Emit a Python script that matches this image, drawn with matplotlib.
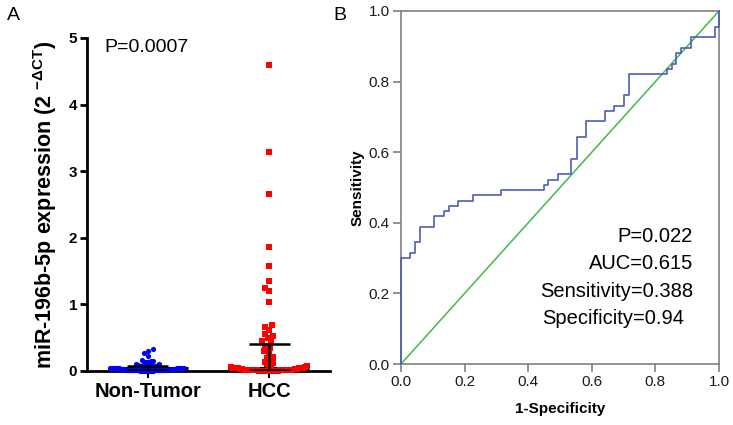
import numpy as np
import matplotlib
matplotlib.use("Agg")
import matplotlib.pyplot as plt

plt.rcParams['font.family'] = ['Liberation Sans', 'DejaVu Sans']
plt.rcParams['mathtext.fontset'] = 'custom'
plt.rcParams['mathtext.rm'] = 'Liberation Sans'
plt.rcParams['mathtext.bf'] = 'Liberation Sans:bold'
plt.rcParams['mathtext.it'] = 'Liberation Sans:italic'

# ---------------- data ----------------
groups = ["Non-Tumor", "HCC"]
non_tumor = [0.33, 0.30, 0.27, 0.225,
             0.16, 0.15, 0.15, 0.14, 0.14, 0.13, 0.13,
             0.10, 0.10, 0.09, 0.09, 0.08, 0.08, 0.08,
             0.07, 0.07, 0.07, 0.06, 0.06, 0.06, 0.06, 0.05, 0.05, 0.05,
             0.05, 0.05, 0.04, 0.04, 0.04, 0.04, 0.04, 0.04, 0.03, 0.03, 0.03, 0.03,
             0.03, 0.03, 0.03, 0.02, 0.02, 0.02, 0.02, 0.02, 0.02, 0.02, 0.01, 0.01,
             0.01, 0.01, 0.01, 0.01, 0.01, 0.01, 0.01, 0.00, 0.00, 0.00, 0.00, 0.00,
             0.00, 0.00, 0.00]
hcc = [4.59, 3.29, 2.66, 1.86, 1.58, 1.35, 1.25, 1.20, 1.04, 0.69, 0.66, 0.62,
       0.56, 0.53, 0.50, 0.45, 0.43, 0.38, 0.35, 0.30, 0.27, 0.21, 0.21, 0.20,
       0.18, 0.14, 0.12, 0.10, 0.09, 0.08, 0.07, 0.06, 0.06, 0.05, 0.05, 0.05,
       0.04, 0.04, 0.04, 0.03, 0.03, 0.03, 0.03, 0.02, 0.02, 0.02, 0.02, 0.02,
       0.02, 0.01, 0.01, 0.01, 0.01, 0.01, 0.01, 0.01, 0.01, 0.00, 0.00, 0.00,
       0.00, 0.00, 0.00, 0.00, 0.00, 0.00, 0.00]
p_text_a = "P=0.0007"

# ROC curve steps (1-specificity, sensitivity)
roc_fpr = [0.0, 0.0, 0.028, 0.028, 0.044, 0.044, 0.060, 0.060, 0.105, 0.105,
           0.135, 0.135, 0.150, 0.150, 0.180, 0.180, 0.225, 0.225, 0.314, 0.314,
           0.449, 0.449, 0.463, 0.463, 0.494, 0.494, 0.534, 0.534, 0.552, 0.552,
           0.583, 0.583, 0.643, 0.643, 0.670, 0.670, 0.702, 0.702, 0.716, 0.716,
           0.837, 0.837, 0.852, 0.852, 0.866, 0.866, 0.879, 0.879, 0.911, 0.911,
           0.986, 0.986, 1.0, 1.0]
roc_tpr = [0.0, 0.300, 0.300, 0.315, 0.315, 0.345, 0.345, 0.388, 0.388, 0.418,
           0.418, 0.433, 0.433, 0.448, 0.448, 0.463, 0.463, 0.478, 0.478, 0.493,
           0.493, 0.508, 0.508, 0.522, 0.522, 0.537, 0.537, 0.582, 0.582, 0.642,
           0.642, 0.687, 0.687, 0.716, 0.716, 0.731, 0.731, 0.761, 0.761, 0.821,
           0.821, 0.836, 0.836, 0.851, 0.851, 0.881, 0.881, 0.896, 0.896, 0.925,
           0.925, 0.955, 0.955, 1.0]
roc_stats = ["P=0.022", "AUC=0.615", "Sensitivity=0.388"]
roc_spec = "Specificity=0.94"

W, H = 733, 425
fig = plt.figure(figsize=(W / 100, H / 100), dpi=100)

def frac(x0, y0, x1, y1):
    return [x0 / W, 1 - y1 / H, (x1 - x0) / W, (y1 - y0) / H]

# ---------------- panel A ----------------
axA = fig.add_axes(frac(87, 38, 330, 371))
axA.set_xlim(-0.5, 1.5)
axA.set_ylim(0, 5)
fig.canvas.draw()

def swarm(values, center, diam_px, max_half_px, ax):
    vals = np.asarray(values, dtype=float)
    order = np.argsort(vals)
    t = ax.transData
    pts_px = t.transform(np.column_stack([np.full(len(vals), center), vals]))
    cx = pts_px[0, 0]
    placed = []
    xs = np.zeros(len(vals))
    for i in order:
        yp = pts_px[i, 1]
        cands = [0.0]
        near = [(px, py) for (px, py) in placed if abs(py - yp) < diam_px]
        for px, py in near:
            dx = np.sqrt(max(diam_px ** 2 - (py - yp) ** 2, 0))
            cands += [px + dx, px - dx]
        cands = sorted(cands, key=lambda c: (abs(c), c))
        for c in cands:
            if all((c - px) ** 2 + (yp - py) ** 2 >= diam_px ** 2 - 1e-6 for px, py in near):
                break
        placed.append((c, yp))
        xs[i] = c
    # compress dense bands so the cloud stays within max_half_px
    ys = pts_px[:, 1]
    xs_new = xs.copy()
    for i in range(len(vals)):
        band = np.abs(ys - ys[i]) < 2 * diam_px
        m = np.max(np.abs(xs[band]))
        if m > max_half_px:
            xs_new[i] = xs[i] * max_half_px / m
    out = t.inverted().transform(np.column_stack([cx + xs_new, ys]))
    return out[:, 0], vals

xb, yb = swarm(non_tumor, 0, 4.6, 38, axA)
xr, yr = swarm(hcc, 1, 5.4, 38, axA)
axA.scatter(xb, yb, s=14, marker='o', color='#0000ff', linewidths=0, zorder=3, clip_on=False)
axA.scatter(xr, yr, s=17, marker='s', color='#ff0000', linewidths=0, zorder=3, clip_on=False)

for pos, vals in [(0, non_tumor), (1, hcc)]:
    q1, med, q3 = np.percentile(vals, [25, 50, 75])
    axA.plot([pos - 0.33, pos + 0.33], [med, med], color='black', lw=2.2, zorder=2,
             solid_capstyle='butt')
    axA.plot([pos - 0.17, pos + 0.17], [q3, q3], color='black', lw=1.8, zorder=4,
             solid_capstyle='butt')
    axA.plot([pos - 0.17, pos + 0.17], [q1, q1], color='black', lw=1.8, zorder=4,
             solid_capstyle='butt')
    axA.plot([pos, pos], [q1, q3], color='black', lw=1.8, zorder=4)

axA.spines['top'].set_visible(False)
axA.spines['right'].set_visible(False)
axA.spines['left'].set_linewidth(2)
axA.spines['bottom'].set_linewidth(2)
axA.spines['bottom'].set_zorder(1)
axA.set_yticks([0, 1, 2, 3, 4, 5])
axA.set_xticks([0, 1])
axA.set_xticklabels(groups, fontsize=14.5, fontweight='bold')
axA.tick_params(axis='y', length=5, width=2, labelsize=11, pad=2)
axA.tick_params(axis='x', length=5, width=1.5, pad=3)
for lab in axA.get_yticklabels():
    lab.set_fontweight('bold')
axA.set_ylabel(r'miR-196b-5p expression (2 $^{\mathbf{-\Delta CT}}$)', fontsize=15.5,
               fontweight='bold', labelpad=7)
axA.text(0.07, 0.97, p_text_a, transform=axA.transAxes, fontsize=14, ha='left', va='center')
fig.text(7 / W, 1 - 15 / H, "A", fontsize=14, ha='left', va='center')

# ---------------- panel B ----------------
axB = fig.add_axes(frac(401, 11, 719, 364))
axB.set_xlim(0, 1)
axB.set_ylim(0, 1)
axB.plot([0, 1], [0, 1], color='#3dba4a', lw=1.1, zorder=2)
axB.plot(roc_fpr, roc_tpr, color='#4a5db5', lw=1.2, zorder=3, clip_on=False)
for sp in axB.spines.values():
    sp.set_color('#808080')
    sp.set_linewidth(1.2)
axB.set_xticks(np.arange(0, 1.01, 0.2))
axB.set_yticks(np.arange(0, 1.01, 0.2))
axB.xaxis.set_major_formatter(matplotlib.ticker.FormatStrFormatter('%.1f'))
axB.yaxis.set_major_formatter(matplotlib.ticker.FormatStrFormatter('%.1f'))
axB.tick_params(length=6, width=1.2, color='#808080', labelsize=11, labelcolor='#1a1a1a', pad=2)
axB.set_xlabel("1-Specificity", fontsize=11, fontweight='bold', labelpad=9)
axB.set_ylabel("Sensitivity", fontsize=11, fontweight='bold', labelpad=3)
ys = [0.36, 0.286, 0.204]
for s, y in zip(roc_stats, ys):
    axB.text(0.918, y, s, transform=axB.transAxes, fontsize=14.5, ha='right', va='center')
axB.text(0.443, 0.130, roc_spec, transform=axB.transAxes, fontsize=14.5, ha='left', va='center')
fig.text(333 / W, 1 - 15 / H, "B", fontsize=14, ha='left', va='center')

fig.savefig("out.png", dpi=100)
